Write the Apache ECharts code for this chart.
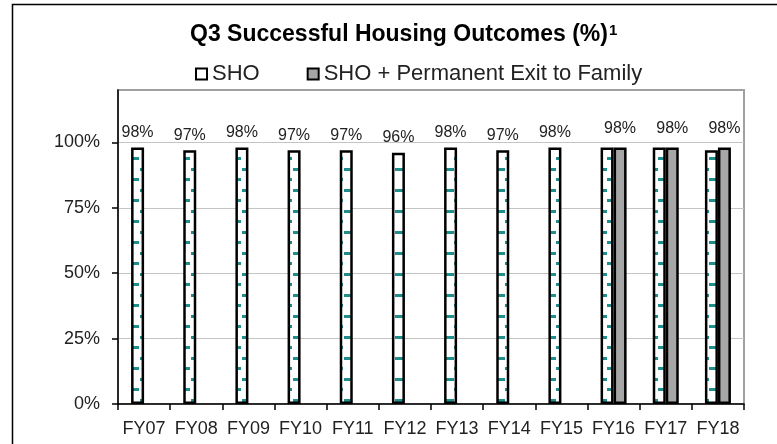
<!DOCTYPE html>
<html>
<head>
<meta charset="utf-8">
<script src="https://cdn.jsdelivr.net/npm/echarts@6/dist/echarts.min.js"></script>
<style>
  html, body { margin: 0; padding: 0; background: #fff; }
  #chart { width: 777px; height: 444px; }
</style>
</head>
<body>
<div id="chart"></div>
<script>
// fiscal years on the x axis
const years = ['FY07', 'FY08', 'FY09', 'FY10', 'FY11', 'FY12', 'FY13', 'FY14', 'FY15', 'FY16', 'FY17', 'FY18'];
// SHO (%)
const sho = [98, 97, 98, 97, 97, 96, 98, 97, 98, 98, 98, 97];
// SHO + Permanent Exit to Family (%), only from FY16
const shoFamily = [null, null, null, null, null, null, null, null, null, 98, 98, 98];
const yTicks = [0, 25, 50, 75, 100];

// dashed teal texture like the excel pattern fill
function makeTexture () {
  const w = 17, h = 21;
  const cv = document.createElement('canvas');
  cv.width = w; cv.height = h;
  const ctx = cv.getContext('2d');
  ctx.fillStyle = '#fff';
  ctx.fillRect(0, 0, w, h);
  ctx.fillStyle = '#1f8e8c';
  const dash = (x, y, len) => {
    ctx.fillRect(x, y, len, 3);
    ctx.fillRect(x - w, y, len, 3);
  };
  dash(12, 10, 8);
  dash(4, 0, 8);
  return cv;
}

const chart = echarts.init(document.getElementById('chart'));
const txt = '#222';

chart.setOption({
  animation: false,
  title: {
    text: '{a|Q3 Successful Housing Outcomes (%)}{b|1}',
    left: 185,
    top: 18,
    textStyle: {
      rich: {
        a: { fontFamily: 'Liberation Sans', fontWeight: 'bold', fontSize: 23, color: '#000' },
        b: { fontFamily: 'Liberation Sans', fontWeight: 'bold', fontSize: 15, color: '#000', padding: [0, 0, 9, 1] }
      }
    }
  },
  legend: {
    left: 190,
    top: 58,
    itemWidth: 11,
    itemHeight: 11,
    itemGap: 47,
    icon: 'rect',
    textStyle: { fontFamily: 'Liberation Sans', fontSize: 22, color: txt },
    data: [
      { name: 'SHO', itemStyle: { color: '#fff', borderColor: '#000', borderWidth: 2 } },
      { name: 'SHO + Permanent Exit to Family', itemStyle: { color: '#a6a6a6', borderColor: '#000', borderWidth: 2 } }
    ]
  },
  graphic: [
    {
      type: 'rect',
      shape: { x: 12.5, y: 4.5, width: 900, height: 600 },
      style: { fill: 'none', stroke: '#000', lineWidth: 1.5 },
      silent: true
    }
  ],
  grid: {
    left: 118,
    right: 33,
    top: 90,
    bottom: 40,
    show: true,
    borderColor: '#a0a0a0',
    borderWidth: 2
  },
  xAxis: {
    type: 'category',
    data: years,
    axisLine: { lineStyle: { color: '#000', width: 1.5 } },
    axisTick: { show: true, length: 6, lineStyle: { color: '#000', width: 1.5 } },
    axisLabel: { fontFamily: 'Liberation Sans', fontSize: 18, color: txt, margin: 16, interval: 0 }
  },
  yAxis: {
    type: 'value',
    min: 0,
    max: 120,
    interval: 25,
    axisLine: { show: true, lineStyle: { color: '#000', width: 1.5 } },
    axisTick: { show: true, length: 6, customValues: yTicks, lineStyle: { color: '#000', width: 1.5 } },
    splitLine: { lineStyle: { color: '#c4c4c4', width: 1 } },
    axisLabel: {
      fontFamily: 'Liberation Sans',
      fontSize: 18,
      color: txt,
      margin: 18,
      customValues: yTicks,
      formatter: v => (v > 100 ? '' : v + '%')
    }
  },
  series: [
    {
      name: 'SHO',
      type: 'bar',
      barWidth: 13,
      barGap: '0%',
      itemStyle: {
        color: { image: makeTexture(), repeat: 'repeat' },
        borderColor: '#000',
        borderWidth: 2.5
      },
      label: {
        show: true,
        position: 'top',
        distance: 7,
        fontFamily: 'Liberation Sans',
        fontSize: 16,
        color: txt,
        formatter: '{c}%'
      },
      // labels for FY16-FY18 sit on the second series
      data: sho.map((v, i) => (shoFamily[i] == null ? v : { value: v, label: { show: false } }))
    },
    {
      name: 'SHO + Permanent Exit to Family',
      type: 'bar',
      barWidth: 13,
      barGap: '0%',
      itemStyle: { color: '#a6a6a6', borderColor: '#000', borderWidth: 2.5 },
      label: {
        show: true,
        position: 'top',
        distance: 11,
        fontFamily: 'Liberation Sans',
        fontSize: 16,
        color: txt,
        formatter: '{c}%'
      },
      data: shoFamily.map(v => (v == null ? '-' : v))
    }
  ]
});
</script>
</body>
</html>
